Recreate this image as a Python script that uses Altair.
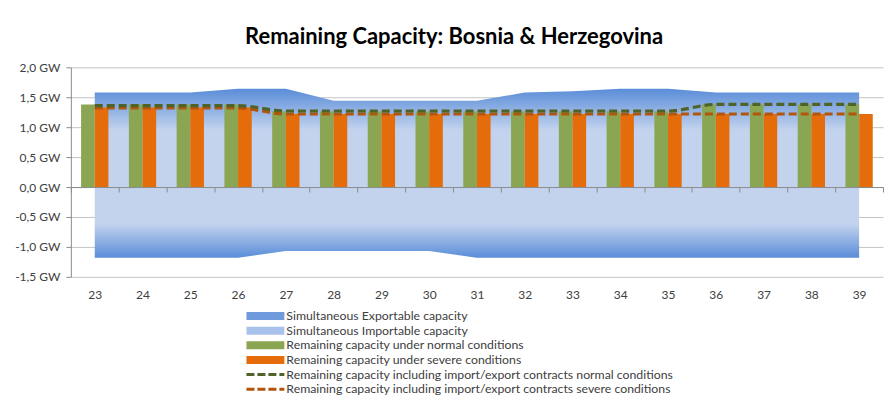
import altair as alt
import pandas as pd

# ---- data ----
weeks = [23, 24, 25, 26, 27, 28, 29, 30, 31, 32, 33, 34, 35, 36, 37, 38, 39]
exportable = [1.58, 1.58, 1.58, 1.64, 1.64, 1.44, 1.44, 1.44, 1.44, 1.58, 1.60, 1.64, 1.64, 1.58, 1.58, 1.58, 1.58]
importable = [-1.18, -1.18, -1.18, -1.18, -1.07, -1.07, -1.07, -1.07, -1.18, -1.18, -1.18, -1.18, -1.18, -1.18, -1.18, -1.18, -1.18]
normal = [1.38, 1.38, 1.38, 1.38, 1.26, 1.26, 1.26, 1.26, 1.26, 1.26, 1.26, 1.26, 1.26, 1.38, 1.38, 1.38, 1.38]
severe = [1.33, 1.33, 1.33, 1.33, 1.22, 1.22, 1.22, 1.22, 1.22, 1.22, 1.22, 1.22, 1.22, 1.22, 1.22, 1.22, 1.22]
contract_normal = [1.36, 1.36, 1.36, 1.36, 1.27, 1.27, 1.27, 1.27, 1.27, 1.27, 1.27, 1.27, 1.27, 1.38, 1.38, 1.38, 1.38]
contract_severe = [1.32, 1.32, 1.32, 1.32, 1.22, 1.22, 1.22, 1.22, 1.22, 1.22, 1.22, 1.22, 1.22, 1.22, 1.22, 1.22, 1.22]
y_ticks = [-1.5, -1.0, -0.5, 0.0, 0.5, 1.0, 1.5, 2.0]

legend_names = [
    "Simultaneous Exportable capacity",
    "Simultaneous Importable capacity",
    "Remaining capacity under normal conditions",
    "Remaining capacity under severe conditions",
    "Remaining capacity including import/export contracts normal conditions",
    "Remaining capacity including import/export contracts severe conditions",
]
legend_colors = ["#6F9BDD", "#A9C2EB", "#8BA652", "#E46C0A", "#4F6228", "#B4530C"]

FONT = "Lato"
W, H = 814, 210

wk = [str(w) for w in weeks]
df = pd.DataFrame({
    "week": wk,
    "exportable": exportable,
    "importable": importable,
    "normal": normal,
    "severe": severe,
    "cn": contract_normal,
    "cs": contract_severe,
})
bars_df = pd.DataFrame({
    "week": wk + wk,
    "cond": ["normal"] * len(wk) + ["severe"] * len(wk),
    "value": normal + severe,
})

xscale = alt.Scale(domain=wk, paddingInner=0, paddingOuter=0)
yscale = alt.Scale(domain=[-1.5, 2.0], nice=False, zero=False)
yaxis = alt.Axis(
    values=y_ticks,
    title=None,
    labelExpr="(datum.value < 0 ? '-' : '') + replace(format(abs(datum.value), '.1f'), '.', ',') + ' GW'",
    grid=True, gridColor="#C4C4C4", gridWidth=1,
    domain=True, domainColor="#8C8C8C",
    ticks=True, tickColor="#8C8C8C", tickSize=5,
    labelFont=FONT, labelFontSize=12, labelColor="#404040", labelPadding=6,
)
xaxis = alt.Axis(
    orient="bottom", offset=-90, title=None, zindex=1,
    domain=True, domainColor="#8C8C8C",
    ticks=True, tickBand="extent", tickColor="#8C8C8C", tickSize=5,
    labelAngle=0, labelPadding=98, labelFont=FONT, labelFontSize=12, labelColor="#404040",
    grid=False,
)


def X():
    return alt.X("week:N", scale=xscale, sort=wk, axis=xaxis)


def Y(field):
    return alt.Y(field, type="quantitative", scale=yscale, axis=yaxis)


blue_dark = "#5A8DD8"
blue_light = "#C3D3EE"

export_area = alt.Chart(df).mark_area(
    color=alt.Gradient(gradient="linear", x1=0, x2=0, y1=0, y2=1,
                       stops=[alt.GradientStop(color=blue_dark, offset=0),
                              alt.GradientStop(color=blue_light, offset=0.42),
                              alt.GradientStop(color=blue_light, offset=1)])
).encode(x=X(), y=Y("exportable"))

import_area = alt.Chart(df).mark_area(
    color=alt.Gradient(gradient="linear", x1=0, x2=0, y1=0, y2=1,
                       stops=[alt.GradientStop(color=blue_light, offset=0),
                              alt.GradientStop(color=blue_light, offset=0.52),
                              alt.GradientStop(color=blue_dark, offset=1)])
).encode(x=X(), y=Y("importable"))

bars = alt.Chart(bars_df).mark_bar().encode(
    x=X(),
    xOffset=alt.XOffset("cond:N", sort=["normal", "severe"],
                        scale=alt.Scale(domain=["normal", "severe"], paddingInner=0, paddingOuter=0.75)),
    y=Y("value"),
    color=alt.Color("cond:N", scale=alt.Scale(domain=["normal", "severe"], range=["#8BA652", "#E46C0A"]), legend=None),
)

line_severe = alt.Chart(df).mark_line(
    color="#B0560F", strokeWidth=3.2, strokeDash=[8, 4], interpolate="monotone"
).encode(x=X(), y=Y("cs"))
line_normal = alt.Chart(df).mark_line(
    color="#4F6228", strokeWidth=3.2, strokeDash=[8, 4], interpolate="monotone"
).encode(x=X(), y=Y("cn"))

main = alt.layer(export_area, import_area, bars, line_severe, line_normal).properties(width=W, height=H)

# ---- legend panel ----
leg_df = pd.DataFrame({"name": legend_names, "kind": ["solid"] * 4 + ["dash"] * 2})
ly = alt.Y("name:N", sort=legend_names, scale=alt.Scale(type="point", domain=legend_names, padding=0.5), axis=None)
lstroke = alt.Stroke("name:N", scale=alt.Scale(domain=legend_names, range=legend_colors), legend=None)
SX0, SX1, TX = 176, 214, 216
leg_solid = alt.Chart(leg_df).transform_filter("datum.kind == 'solid'").mark_rule(strokeWidth=8).encode(
    y=ly, x=alt.value(SX0), x2=alt.value(SX1), stroke=lstroke)
leg_dash = alt.Chart(leg_df).transform_filter("datum.kind == 'dash'").mark_rule(strokeWidth=3, strokeDash=[8, 3]).encode(
    y=ly, x=alt.value(SX0), x2=alt.value(SX1), stroke=lstroke)
leg_text = alt.Chart(leg_df).mark_text(align="left", baseline="middle", font=FONT, fontSize=12.3, color="#404040").encode(
    y=ly, x=alt.value(TX), text="name:N")
legend = alt.layer(leg_solid, leg_dash, leg_text).properties(width=W, height=88)

chart = alt.vconcat(main, legend, spacing=8).properties(
    title=alt.TitleParams("Remaining Capacity: Bosnia & Herzegovina", font=FONT, fontSize=22,
                          fontWeight="bold", color="#000000", anchor="middle", offset=12, dx=5),
    padding={"left": 6, "top": 18, "right": 0, "bottom": 2},
).configure_view(stroke=None)

chart.save("out.html", embed_options={"renderer": "svg", "actions": False})
